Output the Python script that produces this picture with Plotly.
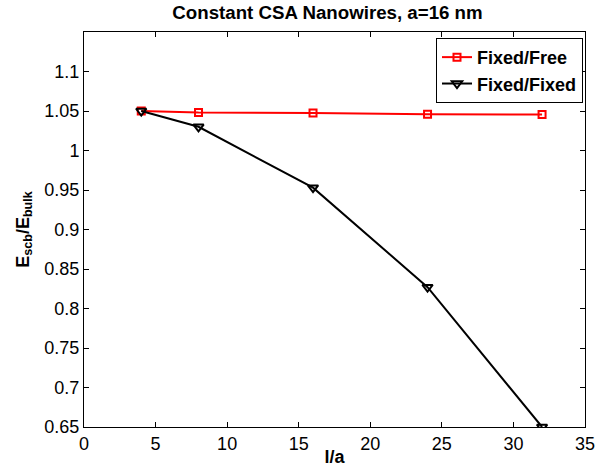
import plotly.graph_objects as go

x_free = [4, 8, 16, 24, 32]
y_free = [1.050, 1.048, 1.0475, 1.0458, 1.0455]
x_fixed = [4, 8, 16, 24, 32]
y_fixed = [1.050, 1.030, 0.953, 0.827, 0.650]

x_ticks = [0, 5, 10, 15, 20, 25, 30, 35]
y_ticks = [0.65, 0.7, 0.75, 0.8, 0.85, 0.9, 0.95, 1, 1.05, 1.1]

font = "Liberation Sans, Arial, sans-serif"

fig = go.Figure()
fig.add_trace(go.Scatter(
    x=x_free, y=y_free, mode="lines+markers", name="<b>Fixed/Free</b>",
    line=dict(color="#ff0000", width=2),
    marker=dict(symbol="square-open", size=7, color="#ff0000", line=dict(width=2)),
))
fig.add_trace(go.Scatter(
    x=x_fixed, y=y_fixed, mode="lines+markers", name="<b>Fixed/Fixed</b>",
    line=dict(color="black", width=2),
    marker=dict(symbol="triangle-down-open", size=9, color="black", line=dict(width=2)),
))

axis_common = dict(
    showgrid=False, zeroline=False, showline=True, linecolor="black", linewidth=1,
    mirror="ticks", ticks="inside", ticklen=5, tickcolor="black", automargin=False,
    tickfont=dict(family=font, size=18, color="black"),
)

fig.update_layout(
    width=599, height=467,
    margin=dict(l=84, r=14, t=32, b=40),
    paper_bgcolor="white", plot_bgcolor="white",
    title=dict(text="<b>Constant CSA Nanowires, a=16 nm</b>", x=327.5 / 599, xanchor="center",
               y=1 - 12 / 467, yanchor="middle", automargin=False,
               font=dict(family=font, size=18.7, color="black")),
    xaxis=dict(range=[0, 35], tickvals=x_ticks, ticktext=[str(v) for v in x_ticks],
               title=dict(text="<b>l/a</b>", font=dict(family=font, size=18, color="black"), standoff=0),
               **axis_common),
    yaxis=dict(range=[0.65, 1.15], tickvals=y_ticks, ticktext=[f"{v:g}" for v in y_ticks],
               title=dict(text="<b>E<sub>scb</sub>/E<sub>bulk</sub></b>",
                          font=dict(family=font, size=18, color="black"), standoff=10),
               **axis_common),
    legend=dict(x=0.996, y=0.985, xanchor="right", yanchor="top",
                bordercolor="black", borderwidth=1, bgcolor="white",
                font=dict(family=font, size=18, color="black"),
                tracegroupgap=0, itemwidth=30),
    showlegend=True,
)

fig.write_html("out.html", config={"displayModeBar": False},
               post_script="document.body.style.margin='0';")
